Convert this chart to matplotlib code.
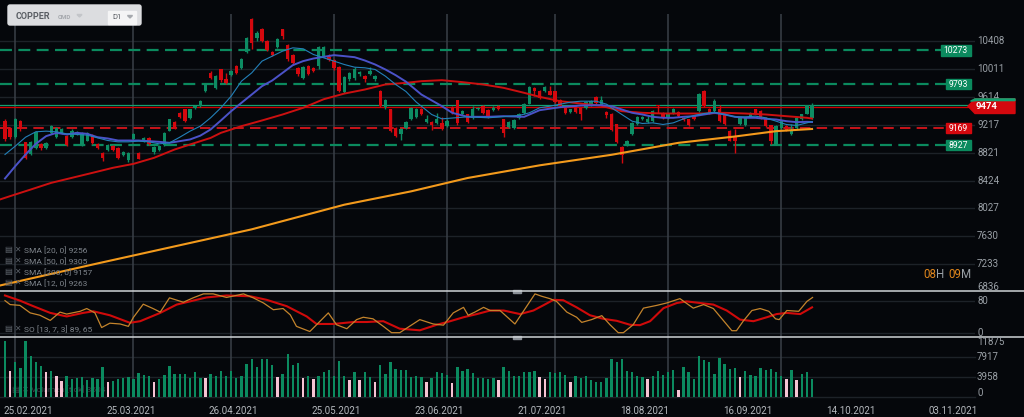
import numpy as np
import matplotlib.pyplot as plt
from matplotlib.patches import Polygon, Rectangle, FancyBboxPatch

plt.rcParams['font.family'] = ['Roboto', 'DejaVu Sans']
plt.rcParams['lines.scale_dashes'] = False

# daily candles
opens = [9268, 9173, 9041, 9268, 8965, 8808, 8889, 8946, 8889, 9102,
         9041, 9102, 9055, 9041, 9080, 8936, 8993, 9069, 8946, 8818,
         8865, 8913, 8889, 8785, 8709, 9008, 8818, 8984, 9031, 8832,
         8851, 8927, 9135, 9259, 9387, 9434, 9306, 9450, 9481, 9695,
         9955, 9733, 10003, 9861, 9922, 10050, 10017, 10254, 10723, 10444,
         10572, 10406, 10249, 10325, 10572, 10349, 10207, 10027, 9884, 10050,
         10027, 10050, 10193, 10183, 10136, 10036, 9685, 9861, 9884, 9932,
         9917, 9941, 9861, 9695, 9467, 9434, 9173, 9079, 9173, 9301,
         9330, 9443, 9263, 9254, 9235, 9244, 9197, 9458, 9562, 9363,
         9363, 9315, 9434, 9481, 9424, 9424, 9481, 9292, 9187, 9173,
         9311, 9387, 9519, 9742, 9704, 9695, 9695, 9690, 9576, 9458,
         9396, 9481, 9458, 9458, 9491, 9614, 9505, 9401, 9377, 9221,
         8903, 8922, 9079, 9221, 9292, 9254, 9268, 9491, 9387, 9315,
         9387, 9396, 9315, 9292, 9339, 9410, 9704, 9443, 9410, 9434,
         9387, 9135, 9064, 9230, 9207, 9339, 9434, 9410, 9315, 9207,
         8936, 9173, 9197, 9079, 9173, 9292, 9377, 9315]
closes = [9008, 9041, 9292, 9150, 8750, 8974, 9117, 8880, 8960, 9197,
          9164, 9150, 8936, 9135, 9110, 9102, 9102, 8960, 8889, 8747,
          8936, 8865, 8747, 8832, 8818, 9079, 8737, 9031, 8946, 8898,
          8913, 9102, 9292, 9173, 9325, 9268, 9434, 9480, 9552, 9790,
          9884, 9908, 9847, 9813, 9988, 9955, 10145, 10453, 10382, 10515,
          10406, 10287, 10216, 10430, 10477, 10145, 10098, 9932, 10036, 9941,
          9979, 10325, 10325, 10136, 10017, 9704, 9894, 9955, 10003, 9970,
          9861, 9988, 9908, 9482, 9576, 9126, 9055, 9150, 9254, 9458,
          9443, 9377, 9292, 9216, 9301, 9159, 9277, 9387, 9235, 9410,
          9254, 9443, 9458, 9387, 9330, 9458, 9434, 9102, 9259, 9282,
          9377, 9515, 9756, 9695, 9600, 9756, 9647, 9538, 9481, 9387,
          9434, 9396, 9363, 9538, 9552, 9529, 9567, 9349, 9140, 8970,
          8794, 8993, 9244, 9330, 9330, 9292, 9410, 9482, 9315, 9363,
          9443, 9339, 9282, 9207, 9301, 9661, 9481, 9377, 9552, 9268,
          9221, 8993, 8993, 9315, 9315, 9387, 9387, 9315, 9197, 8984,
          9197, 9278, 9140, 9135, 9315, 9363, 9491, 9491]
highs = [9300, 9190, 9310, 9280, 8975, 8990, 9130, 8960, 8975, 9215,
         9180, 9170, 9070, 9150, 9130, 9115, 9115, 9080, 8960, 8830,
         8950, 8925, 8900, 8845, 8830, 9095, 8830, 9045, 9040, 8910,
         8925, 9115, 9305, 9270, 9400, 9445, 9445, 9495, 9565, 9805,
         9975, 9920, 10015, 9955, 10000, 10060, 10160, 10470, 10735, 10550,
         10600, 10420, 10262, 10445, 10585, 10362, 10220, 10040, 10050, 10065,
         10040, 10340, 10340, 10230, 10150, 10050, 9910, 9970, 10040, 9985,
         9930, 10040, 9922, 9710, 9590, 9448, 9186, 9165, 9270, 9472,
         9456, 9456, 9360, 9268, 9385, 9330, 9292, 9480, 9575, 9424,
         9376, 9480, 9471, 9494, 9437, 9490, 9494, 9305, 9272, 9295,
         9390, 9528, 9770, 9755, 9717, 9770, 9775, 9703, 9589, 9471,
         9447, 9494, 9471, 9551, 9565, 9627, 9625, 9414, 9390, 9234,
         8916, 9006, 9257, 9343, 9343, 9340, 9423, 9504, 9400, 9376,
         9456, 9409, 9328, 9305, 9352, 9674, 9717, 9456, 9590, 9495,
         9400, 9148, 9150, 9328, 9328, 9400, 9447, 9423, 9328, 9220,
         9210, 9291, 9210, 9230, 9328, 9376, 9504, 9520]
lows = [8990, 9020, 9030, 9130, 8730, 8790, 8870, 8860, 8870, 9090,
        9025, 9090, 8920, 9030, 9065, 8920, 8980, 8945, 8870, 8700,
        8850, 8850, 8735, 8770, 8690, 8995, 8725, 8970, 8935, 8800,
        8840, 8915, 9125, 9160, 9310, 9250, 9295, 9435, 9470, 9680,
        9870, 9720, 9830, 9800, 9910, 9940, 10005, 10240, 10300, 10410,
        10390, 10270, 10200, 10315, 10440, 10120, 10060, 9915, 9870, 9925,
        9965, 10010, 10180, 10120, 10000, 9680, 9670, 9845, 9850, 9915,
        9820, 9925, 9845, 9465, 9440, 9110, 9040, 9000, 9160, 9290,
        9318, 9362, 9245, 9140, 9222, 9145, 9184, 9372, 9218, 9350,
        9240, 9302, 9421, 9374, 9317, 9411, 9421, 9045, 9174, 9160,
        9298, 9374, 9506, 9620, 9587, 9682, 9634, 9525, 9468, 9374,
        9383, 9383, 9290, 9445, 9478, 9516, 9492, 9315, 9127, 8960,
        8676, 8909, 9066, 9208, 9279, 9241, 9255, 9390, 9302, 9302,
        9374, 9326, 9269, 9194, 9288, 9397, 9468, 9364, 9397, 9255,
        9208, 8980, 8818, 9217, 9194, 9326, 9374, 9302, 9184, 8950,
        8923, 9160, 9127, 9066, 9160, 9279, 9364, 9302]

volumes = [11089, 5152, 6866, 5811, 11089, 8186, 7000, 6075, 5020, 5152,
           4228, 3173, 4228, 3569, 3832, 4030, 3371, 3832, 3569, 5877,
           2909, 3173, 3569, 3832, 4030, 3569, 4690, 4360, 4228, 2909,
           3569, 4360, 6075, 4492, 4492, 4492, 3832, 5020, 3832, 3700,
           4492, 4228, 5152, 4228, 5152, 3832, 4228, 6471, 7526, 5877,
           7526, 7526, 6339, 4030, 4492, 8450, 6339, 6669, 3832, 4228,
           3569, 4228, 4888, 5350, 4228, 7130, 4228, 3371, 5020, 3371,
           5020, 4030, 2909, 6339, 4492, 7000, 5547, 5350, 5350, 4030,
           4130, 4030, 2909, 3832, 4888, 4690, 4360, 2843, 5877, 5152,
           5481, 4690, 3832, 3700, 3569, 3832, 3371, 5877, 5152, 4228,
           4228, 4888, 5020, 5152, 4030, 3569, 4888, 4690, 4888, 4360,
           2909, 4228, 3832, 4228, 3371, 3041, 2909, 3700, 7526, 7000,
           7526, 5152, 5020, 4228, 4030, 3569, 4228, 5152, 4360, 5020,
           5350, 1391, 6009, 4888, 3569, 8186, 7328, 6866, 4492, 7790,
           6471, 5481, 5811, 4030, 5152, 4360, 4228, 5811, 5350, 5547,
           4888, 4228, 3569, 5350, 3371, 4492, 5020, 3503]
vol_pink = [1, 8, 10, 11, 20, 29, 39, 53, 58, 60, 67, 69, 72,
            82, 87, 96, 104, 105, 110, 125, 131, 143, 152, 154]

# moving averages, read at points along each line
sma12_idx = [0, 2, 4, 6, 8, 10, 12, 14, 16, 18, 20, 22, 24, 26, 28, 30, 32, 34, 36, 38,
             40, 42, 44, 46, 48, 50, 52, 54, 56, 58, 60, 62, 64, 66, 68, 70, 72, 74, 76, 78,
             80, 83, 85, 90, 94, 100, 102, 104, 106, 110, 112, 115, 117, 118, 120, 122, 124,
             126, 128, 130, 132, 134, 136, 138, 140, 142, 144, 146, 148, 150, 152, 154, 156, 157]
sma12_val = [8794, 8913, 9040, 9117, 9126, 9117, 9088, 9079, 9069, 9031, 8993, 8974, 8974,
             8984, 8974, 8946, 8960, 9040, 9126, 9197, 9316, 9458, 9624, 9837, 9955, 10122,
             10193, 10264, 10311, 10297, 10216, 10169, 10122, 10074, 10036, 10027, 10003, 9908,
             9790, 9690, 9540, 9363, 9301, 9330, 9316, 9349, 9387, 9458, 9481, 9538, 9552, 9552,
             9510, 9458, 9363, 9268, 9235, 9244, 9221, 9244, 9301, 9349, 9377, 9396, 9363, 9330,
             9330, 9339, 9316, 9268, 9221, 9207, 9244, 9263]
sma20_idx = [0, 2, 4, 6, 8, 10, 12, 14, 16, 18, 20, 22, 24, 26, 28, 30, 32, 34, 36, 38,
             40, 42, 44, 46, 48, 50, 52, 54, 56, 58, 60, 62, 64, 66, 68, 70, 72, 74, 76, 78,
             81, 85, 87, 90, 94, 97, 101, 104, 108, 112, 116, 118, 120, 122, 124, 126, 128,
             130, 132, 134, 136, 138, 140, 142, 144, 146, 148, 150, 152, 154, 156, 157]
sma20_val = [8453, 8628, 8794, 8946, 9055, 9102, 9079, 9102, 9088, 9040, 9022, 8993, 8993,
             8993, 8984, 8974, 8960, 8984, 9008, 9062, 9150, 9278, 9410, 9529, 9647, 9766,
             9847, 9955, 10065, 10122, 10159, 10183, 10207, 10193, 10178, 10131, 10074, 10003,
             9922, 9830, 9647, 9481, 9387, 9330, 9330, 9339, 9330, 9424, 9467, 9491, 9496,
             9481, 9434, 9387, 9363, 9330, 9316, 9316, 9330, 9339, 9363, 9387, 9363, 9330,
             9316, 9316, 9301, 9292, 9268, 9254, 9259, 9256]
sma50_idx = [-1, 1, 5, 9, 13, 17, 21, 25, 29, 33, 37, 40, 42, 46, 50, 54, 58, 62, 66, 70,
             74, 78, 81, 85, 89, 93, 97, 101, 104, 108, 112, 116, 120, 124, 128, 132, 136,
             140, 144, 148, 152, 156, 157]
sma50_val = [8154, 8202, 8296, 8391, 8462, 8533, 8605, 8661, 8747, 8865, 8960, 9030, 9102,
             9197, 9278, 9363, 9458, 9580, 9660, 9718, 9790, 9813, 9837, 9851, 9823, 9790,
             9742, 9671, 9614, 9552, 9519, 9486, 9410, 9387, 9377, 9377, 9377, 9387, 9377,
             9363, 9339, 9316, 9305]
sma200_idx = [-1, 18, 48, 66, 79, 90, 104, 118, 131, 142, 150, 157]
sma200_val = [6931, 7245, 7730, 8080, 8270, 8460, 8640, 8790, 8960, 9050, 9126, 9157]

# stochastic oscillator SO [13, 7, 3]
so_k_idx = [0, 1, 2.9, 4.9, 6.8, 8.8, 10.7, 12, 14.6, 15.9, 17.5, 18.8, 20.4, 22.4, 24, 25,
            26.9, 28.8, 30.2, 32, 34.7, 36.6, 38.6, 40.5, 43.1, 46.4, 48.3, 50.3, 52.2, 54.1,
            55.5, 56.7, 59.3, 61.3, 62.9, 64.5, 66.5, 68.4, 69.7, 71.6, 73.6, 75.2, 76.8,
            78.8, 80.7, 83.3, 85.3, 87.2, 89.2, 90.1, 91.4, 93.1, 94.4, 96.3, 99.2, 101.2,
            103.1, 104.4, 106, 107.3, 109.3, 111.2, 112.2, 114.1, 116.1, 117.7, 119.3, 120.3,
            122.2, 124.2, 126.8, 128.7, 131.3, 133.9, 135.9, 137.8, 139.8, 141.4, 142.3,
            143.6, 145.3, 146.9, 148.6, 149.9, 150.6, 152.1, 154.4, 156, 157.1]
so_k_val = [81, 71, 69, 50, 44, 31, 52, 47, 54, 61, 50, 13, 24, 22, 16, 39,
            72, 61, 52, 88, 77, 88, 98, 98, 89, 98, 88, 75, 58, 61,
            45, 16, 3, 29, 50, 20, 10, 33, 39, 35, 16, 0, 0,
            17, 33, 22, 19, 50, 64, 44, 52, 64, 56, 56, 22, 61,
            98, 92, 86, 79, 52, 39, 26, 33, 43, 20, 0, 0,
            20, 62, 69, 75, 86, 62, 71, 61, 30, 5, 5,
            29, 56, 61, 54, 35, 33, 56, 54, 79, 89]
so_d_idx = [0, 2.9, 5.5, 8.8, 12, 15.2, 17.2, 20.4, 24.3, 26.3, 30.2, 33.4, 36.6, 39.2,
            43.1, 47.7, 50.9, 54.8, 58.7, 60.6, 63.9, 67.8, 70.4, 73.6, 76.8, 78.8, 80.7,
            84, 86.6, 89.2, 91.8, 94.4, 97, 100.2, 102.8, 104.7, 106.7, 108.6, 111.2, 113.8,
            116.4, 119, 121.6, 123.5, 125.5, 128.1, 130.7, 132.6, 135.2, 137.8, 140.4, 143,
            145.6, 148.2, 150.1, 152.1, 154.7, 157]
so_d_val = [94, 81, 67, 50, 41, 50, 54, 44, 25, 29, 50, 71, 81, 89,
            94, 92, 83, 67, 41, 22, 22, 27, 27, 29, 10, 8, 6,
            20, 29, 39, 47, 56, 56, 47, 56, 69, 83, 82, 64, 44,
            35, 30, 20, 19, 29, 62, 75, 79, 75, 71, 56, 33,
            29, 39, 47, 50, 47, 64]

support_green = [10273, 9793, 8927]
support_red = [9169]
last_price = 9474
ask_price = 9500
price_ticks = [10408, 10011, 9614, 9217, 8821, 8424, 8027, 7630, 7233, 6836]
vol_ticks = [11875, 7917, 3958, 0]
month_idx = [2, 25, 44, 64, 86, 107, 129, 151]
date_idx = [4.5, 24.5, 44.5, 64.5, 84.5, 104.5, 124.5, 144.5, 164.5, 184.5]
date_labels = ['25.02.2021', '25.03.2021', '26.04.2021', '25.05.2021', '23.06.2021',
               '21.07.2021', '18.08.2021', '16.09.2021', '14.10.2021', '03.11.2021']
legend_lines = ['SMA [20, 0] 9256', 'SMA [50, 0] 9305', 'SMA [200, 0] 9157', 'SMA [12, 0] 9263']

BG = '#05070b'
GREEN = '#0d8c63'
RED = '#d4080e'
GRID = '#1d2228'
VGRID = '#3a4048'
LABEL = '#9aa0a6'

W, H = 1024, 417
fig = plt.figure(figsize=(W / 100, H / 100), dpi=100, facecolor=BG)


def fpos(top, bottom, left=0, right=975):
    return [left / W, 1 - bottom / H, (right - left) / W, (bottom - top) / H]


ax = fig.add_axes(fpos(14, 291))
ax_so = fig.add_axes(fpos(291, 337))
ax_v = fig.add_axes(fpos(337, 397))
for a in (ax, ax_so, ax_v):
    a.set_facecolor(BG)
    a.set_xlim(-0.97, 188.7)
    for s in a.spines.values():
        s.set_visible(False)
    a.tick_params(left=False, right=False, labelleft=False, bottom=False, labelbottom=False)
    for m in month_idx:
        a.axvline(m, color=VGRID, lw=1.1, zorder=1)

# main panel
ax.set_ylim(6853, 10792)
for p in price_ticks:
    ax.axhline(p, color=GRID, lw=1, zorder=0)

ax.plot(sma200_idx, sma200_val, color='#f39a1c', lw=1.5, zorder=5)
ax.plot(sma50_idx, sma50_val, color='#cc1010', lw=1.4, zorder=5)
ax.plot(sma20_idx, sma20_val, color='#4b52c8', lw=1.4, zorder=6)
ax.plot(sma12_idx, sma12_val, color='#2380b8', lw=0.8, zorder=6)

for p in support_green:
    ax.axhline(p, xmax=0.97, color='#0b8a5e', lw=1.6, dashes=(8.6, 4.6), zorder=2)
for p in support_red:
    ax.axhline(p, xmax=0.97, color='#c8141a', lw=1.4, dashes=(7.5, 4.5), zorder=2)
ax.axhline(ask_price, color='#14a070', lw=0.9, zorder=2)
ax.axhline(last_price, color='#d00000', lw=0.9, zorder=2)

o = np.array(opens)
c = np.array(closes)
h = np.array(highs)
l = np.array(lows)
x = np.arange(len(c))
cols = np.where(c >= o, GREEN, RED)
ax.vlines(x, l, h, colors=cols, lw=1, zorder=3)
ax.bar(x, np.maximum(np.abs(c - o), 10), bottom=np.minimum(o, c), width=0.66,
       color=cols, linewidth=0, zorder=4)

# oscillator panel
ax_so.set_ylim(-10.9, 105.3)
ax_so.axhline(80, color=GRID, lw=1, zorder=0)
ax_so.axhline(0, color=GRID, lw=1, zorder=0)
ax_so.plot(so_d_idx, so_d_val, color='#d00a0a', lw=1.5, zorder=4)
ax_so.plot(so_k_idx, so_k_val, color='#c4842c', lw=0.9, zorder=5)

# volume panel
ax_v.set_ylim(0, 11900)
for v in vol_ticks[1:]:
    ax_v.axhline(v, color=GRID, lw=1, zorder=0, clip_on=False)
vcols = [('#f6c4d4' if i in vol_pink else '#0b8a5f') for i in range(len(volumes))]
ax_v.bar(x, volumes, width=0.46, color=vcols, linewidth=0, zorder=3)
ax_v.text(0.012, 0.06, '▤ ✕ Volumen [tick] 3504', transform=ax_v.transAxes,
          color='#3c4148', fontsize=6, va='bottom', zorder=1)
ax_v.set_xticks(date_idx)
ax_v.set_xticklabels(date_labels)
ax_v.tick_params(bottom=False, labelbottom=True, pad=3, labelsize=7, labelcolor='#b4b8bd')

# overlay in pixel coordinates for tags and texts
ov = fig.add_axes([0, 0, 1, 1])
ov.set_xlim(0, W)
ov.set_ylim(H, 0)
ov.axis('off')
ov.patch.set_alpha(0)


def py(a, val):
    return H - a.transData.transform((0, val))[1]


for p in price_ticks[:-1]:
    ov.text(977, py(ax, p), str(p), color=LABEL, fontsize=7, va='center', ha='left')
ov.text(977, 287, '6836', color=LABEL, fontsize=7, va='center', ha='left')
ov.text(977, py(ax_so, 80), '80', color=LABEL, fontsize=7, va='center', ha='left')
ov.text(977, 332.5, '0', color=LABEL, fontsize=7, va='center', ha='left')
vol_label_y = [342, 357.5, 377.3, 393]
for v, yy in zip(vol_ticks, vol_label_y):
    ov.text(977, yy, str(v), color=LABEL, fontsize=7, va='center', ha='left')

# panel separators
ov.plot([0, W], [291, 291], color='#cfd3d6', lw=1.1)
ov.plot([0, W], [337.3, 337.3], color='#cfd3d6', lw=1.1)
ov.add_patch(Rectangle((513, 290.3), 8, 2.2, color='#8a8f96'))
ov.add_patch(Rectangle((513, 336.4), 8, 2.2, color='#8a8f96'))

# level tags
for p in support_green + support_red:
    yy = py(ax, p)
    left = 940.7 if p > 10000 else 945.7
    col = '#0b8a5e' if p in support_green else '#d4080e'
    ov.add_patch(Rectangle((left, yy - 5.2), 970.7 - left, 10.4, color=col, zorder=5))
    ov.text((left + 970.7) / 2, yy + 0.3, str(p), color='white', fontsize=6.2,
            ha='center', va='center', zorder=6)

yy = py(ax, last_price) - 0.5
ov.add_patch(Polygon([(968, yy), (975, yy - 7.3), (1015, yy - 7.3), (1015, yy + 7.3), (975, yy + 7.3)],
                     closed=True, color='#d4080e', zorder=5))
ov.add_patch(Polygon([(970.5, yy - 5), (975, yy - 7.3), (1015, yy - 7.3), (1015, yy - 5.6), (976, yy - 5.6)],
                     closed=True, color='#14a070', zorder=6))
ov.text(976, yy + 0.8, str(last_price), color='white', fontsize=6.8, fontweight='bold',
        ha='left', va='center', zorder=7)

# countdown
ov.text(923, 275, '08', color='#e0861c', fontsize=8.3, va='center', ha='left')
ov.text(936, 275, 'H', color=LABEL, fontsize=8.3, va='center', ha='left')
ov.text(948, 275, '09', color='#e0861c', fontsize=8.3, va='center', ha='left')
ov.text(960.5, 275, 'M', color=LABEL, fontsize=8.3, va='center', ha='left')

# indicator legends
for k, t in enumerate(legend_lines):
    yl = 250 + 11 * k
    ov.text(4, yl, '▤', color='#5d636b', fontsize=6, va='center', ha='left')
    ov.text(14, yl, '✕', color='#5d636b', fontsize=5.5, va='center', ha='left')
    ov.text(24, yl, t, color='#7f858c', fontsize=6, va='center', ha='left')
ov.text(4, 329, '▤', color='#5d636b', fontsize=6, va='center', ha='left')
ov.text(14, 329, '✕', color='#5d636b', fontsize=5.5, va='center', ha='left')
ov.text(24, 329, 'SO [13, 7, 3] 89, 65', color='#7f858c', fontsize=6, va='center', ha='left')

# instrument header
ov.add_patch(FancyBboxPatch((8, 5), 133, 20, boxstyle='round,pad=0,rounding_size=2',
                            color='#dcdde0', zorder=8))
ov.text(16, 16.5, 'COPPER', color='#5a5e64', fontsize=6.5, fontweight='bold',
        va='center', ha='left', zorder=9)
ov.text(58, 17, 'CMD', color='#a6a9ae', fontsize=4.5, fontweight='bold',
        va='center', ha='left', zorder=9)
ov.add_patch(Polygon([(77, 14.5), (82, 14.5), (79.5, 17)], closed=True, color='#c3c5c9', zorder=9))
ov.add_patch(Rectangle((108, 10.5), 28, 13.5, color='#f4f4f5', zorder=9))
ov.text(112, 17, 'D1', color='#5a5e64', fontsize=5.5, va='center', ha='left', zorder=10)
ov.add_patch(Polygon([(127.5, 15.5), (132.5, 15.5), (130, 18)], closed=True, color='#a6a9ae', zorder=10))

fig.savefig('out.png', dpi=100, facecolor=BG)
